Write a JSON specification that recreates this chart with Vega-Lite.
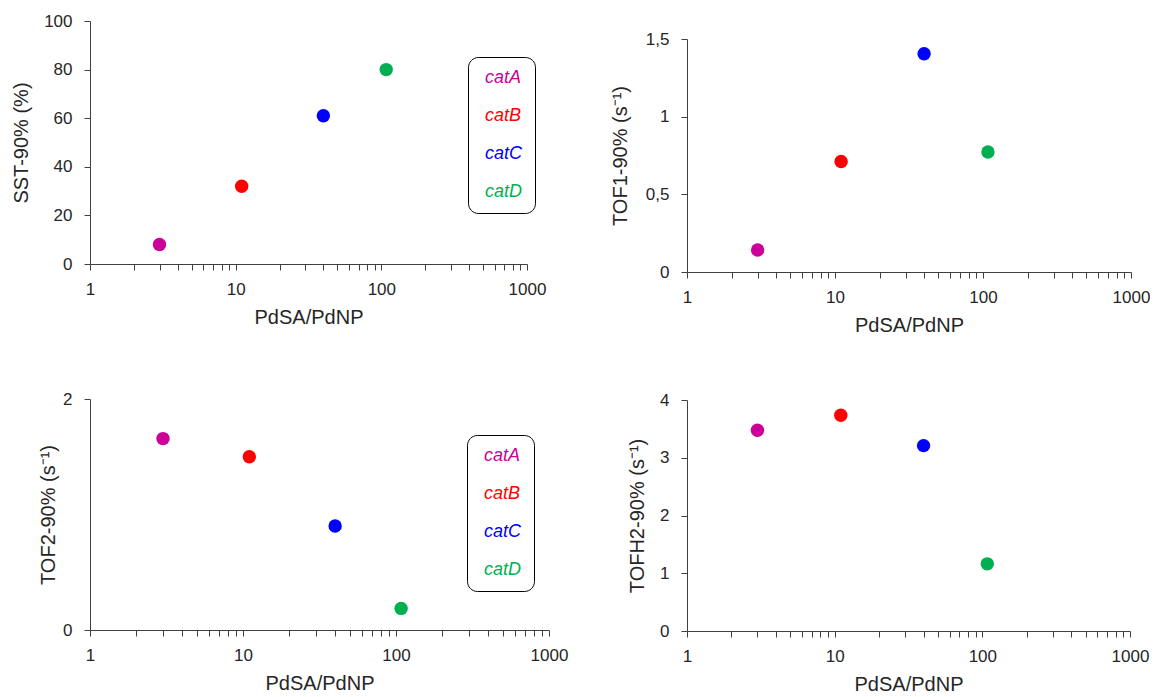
{
  "$schema": "https://vega.github.io/schema/vega-lite/v6.json",
  "background": "white",
  "padding": {"left": 11, "top": 12, "right": 0, "bottom": 0},
  "datasets": {
    "pts": [
      {"cat": "catA", "ratio": 3, "S": 8, "TOF1": 0.142, "TOF2": 1.657, "TOFH2": 3.476},
      {"cat": "catB", "ratio": 11, "S": 32, "TOF1": 0.711, "TOF2": 1.5, "TOFH2": 3.735},
      {"cat": "catC", "ratio": 40, "S": 61, "TOF1": 1.405, "TOF2": 0.9, "TOFH2": 3.21},
      {"cat": "catD", "ratio": 108, "S": 80, "TOF1": 0.772, "TOF2": 0.187, "TOFH2": 1.163}
    ]
  },
  "config": {
    "view": {"stroke": null},
    "axis": {
      "grid": false,
      "domainColor": "#404040",
      "tickColor": "#404040",
      "tickSize": 6,
      "labelFont": "Liberation Sans",
      "labelFontSize": 17,
      "labelColor": "#262626",
      "titleFont": "Liberation Sans",
      "titleFontSize": 20,
      "titleFontWeight": "normal",
      "titleColor": "#262626"
    },
    "axisX": {"labelPadding": 11, "titlePadding": 10, "labelOverlap": false, "labelFlush": false},
    "axisY": {"labelPadding": 12, "labelOverlap": false},
    "legend": {
      "title": null,
      "orient": "none",
      "symbolSize": 0,
      "symbolOpacity": 0,
      "symbolStrokeWidth": 0,
      "labelOffset": -13,
      "labelFont": "Liberation Sans",
      "labelFontSize": 18,
      "labelFontStyle": "italic",
      "labelColor": {"expr": "datum.value == 'catA' ? '#CC0099' : datum.value == 'catB' ? '#FF0000' : datum.value == 'catC' ? '#0000FF' : '#00B050'"},
      "strokeColor": "#000000",
      "fillColor": "#ffffff",
      "cornerRadius": 10,
      "padding": 12,
      "rowPadding": 20
    }
  },
  "spacing": 42,
  "resolve": {"scale": {"color": "independent"}, "legend": {"color": "independent"}},
  "hconcat": [
    {
      "spacing": 63,
      "resolve": {"scale": {"color": "independent"}, "legend": {"color": "independent"}},
      "vconcat": [
        {
          "width": 437,
          "height": 243,
          "data": {"name": "pts"},
          "mark": {"type": "circle", "size": 180, "opacity": 1},
          "encoding": {
            "x": {"field": "ratio", "type": "quantitative", "scale": {"type": "log", "domain": [1, 1000]},
              "axis": {"title": "PdSA/PdNP", "format": "d", "values": [1,2,3,4,5,6,7,8,9,10,20,30,40,50,60,70,80,90,100,200,300,400,500,600,700,800,900,1000],
                "labelExpr": "indexof([1,10,100,1000], datum.value) >= 0 ? datum.label : ''"}},
            "y": {"field": "S", "type": "quantitative", "scale": {"domain": [0, 100]},
              "axis": {"title": "SST-90% (%)", "values": [0,20,40,60,80,100], "format": "d", "titlePadding": 12}},
            "color": {"field": "cat", "type": "nominal",
              "scale": {"domain": ["catA","catB","catC","catD"], "range": ["#CC0099","#FF0000","#0000FF","#00B050"]},
              "legend": {"legendX": 378, "legendY": 36}}
          }
        },
        {
          "width": 459,
          "height": 231,
          "data": {"name": "pts"},
          "mark": {"type": "circle", "size": 180, "opacity": 1},
          "encoding": {
            "x": {"field": "ratio", "type": "quantitative", "scale": {"type": "log", "domain": [1, 1000]},
              "axis": {"title": "PdSA/PdNP", "format": "d", "values": [1,2,3,4,5,6,7,8,9,10,20,30,40,50,60,70,80,90,100,200,300,400,500,600,700,800,900,1000],
                "labelExpr": "indexof([1,10,100,1000], datum.value) >= 0 ? datum.label : ''"}},
            "y": {"field": "TOF2", "type": "quantitative", "scale": {"domain": [0, 2]},
              "axis": {"title": "TOF2-90% (s⁻¹)", "values": [0,1,2], "format": "d", "titlePadding": 4}},
            "color": {"field": "cat", "type": "nominal",
              "scale": {"domain": ["catA","catB","catC","catD"], "range": ["#CC0099","#FF0000","#0000FF","#00B050"]},
              "legend": {"legendX": 377, "legendY": 36}}
          }
        }
      ]
    },
    {
      "spacing": 56,
      "resolve": {"scale": {"color": "independent"}, "legend": {"color": "independent"}},
      "vconcat": [
        {
          "spacing": 8,
          "vconcat": [
            {
              "width": 444,
              "height": 1,
              "data": {"values": []},
              "mark": "point",
              "encoding": {}
            },
            {
              "width": 444,
              "height": 233,
              "data": {"name": "pts"},
              "mark": {"type": "circle", "size": 180, "opacity": 1},
              "encoding": {
                "x": {"field": "ratio", "type": "quantitative", "scale": {"type": "log", "domain": [1, 1000]},
                  "axis": {"title": "PdSA/PdNP", "format": "d", "values": [1,2,3,4,5,6,7,8,9,10,20,30,40,50,60,70,80,90,100,200,300,400,500,600,700,800,900,1000],
                    "labelExpr": "indexof([1,10,100,1000], datum.value) >= 0 ? datum.label : ''"}},
                "y": {"field": "TOF1", "type": "quantitative", "scale": {"domain": [0, 1.5]},
                  "axis": {"title": "TOF1-90% (s⁻¹)", "values": [0,0.5,1,1.5], "labelExpr": "replace(format(datum.value, '~g'), '.', ',')", "titlePadding": 15}},
                "color": {"field": "cat", "type": "nominal",
                  "scale": {"domain": ["catA","catB","catC","catD"], "range": ["#CC0099","#FF0000","#0000FF","#00B050"]},
                  "legend": null}
              }
            }
          ]
        },
        {
          "width": 443,
          "height": 231,
          "data": {"name": "pts"},
          "mark": {"type": "circle", "size": 180, "opacity": 1},
          "encoding": {
            "x": {"field": "ratio", "type": "quantitative", "scale": {"type": "log", "domain": [1, 1000]},
              "axis": {"title": "PdSA/PdNP", "format": "d", "values": [1,2,3,4,5,6,7,8,9,10,20,30,40,50,60,70,80,90,100,200,300,400,500,600,700,800,900,1000],
                "labelExpr": "indexof([1,10,100,1000], datum.value) >= 0 ? datum.label : ''"}},
            "y": {"field": "TOFH2", "type": "quantitative", "scale": {"domain": [0, 4]},
              "axis": {"title": "TOFH2-90% (s⁻¹)", "values": [0,1,2,3,4], "format": "d", "titlePadding": 12}},
            "color": {"field": "cat", "type": "nominal",
              "scale": {"domain": ["catA","catB","catC","catD"], "range": ["#CC0099","#FF0000","#0000FF","#00B050"]},
              "legend": null}
          }
        }
      ]
    }
  ]
}
